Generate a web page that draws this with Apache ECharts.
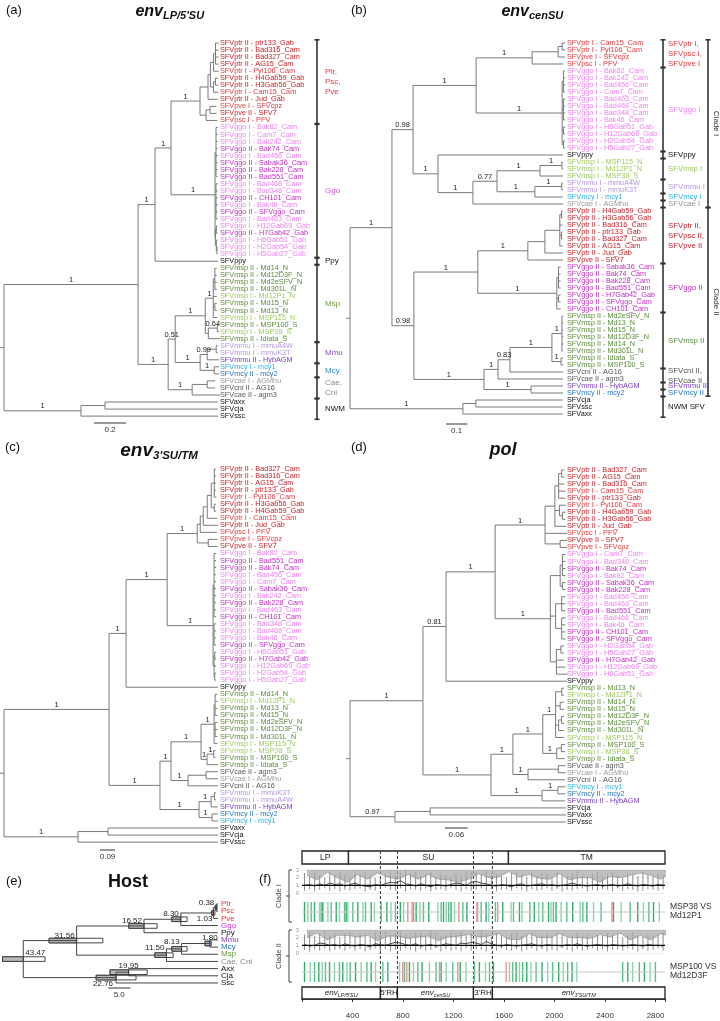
<!DOCTYPE html>
<html><head><meta charset="utf-8">
<script src="https://cdn.jsdelivr.net/npm/echarts@6.0.0/dist/echarts.min.js"></script>
<style>html,body{margin:0;padding:0;background:#fff}#c{width:720px;height:1021px}</style>
</head><body><div id="c"></div>
<script>
// ===================== DATA =====================
// (a) env LP/5'SU tree (branch lengths in substitutions/site, node labels = posterior support)
const a_ptr = "(((((SFVptr II - ptr133_Gab:0.02,SFVptr II - Bad316_Cam:0.02,SFVptr II - Bad327_Cam:0.02,SFVptr II - AG15_Cam:0.02):0.012,SFVptr I - Pyl106_Cam:0.032):0.02,((SFVptr II - H4Gab59_Gab:0.018,SFVptr II - H3Gab56_Gab:0.018):0.012,SFVptr I - Cam15_Cam:0.03):0.02):0.015,SFVptr II - Jud_Gab:0.062):0.05,((SFVpve I - SFVcpz:0.04,SFVpve II - SFV7:0.04):0.025,SFVpsc I - PFV:0.07):0.038)1:0.181";
const a_ggo = "((SFVggo I - Bak82_Cam:0.01,SFVggo I - Cam7_Cam:0.01,SFVggo I - Bak242_Cam:0.01,SFVggo II - Bak74_Cam:0.01,SFVggo I - Bad456_Cam:0.01,SFVggo II - Sabak36_Cam:0.01,SFVggo II - Bak228_Cam:0.01,SFVggo II - Bad551_Cam:0.01):0.006,(SFVggo I - Bad468_Cam:0.01,SFVggo I - Bad348_Cam:0.01,SFVggo II - CH101_Cam:0.01,SFVggo I - Bak46_Cam:0.01,SFVggo II - SFVggo_Cam:0.01,SFVggo I - Bad463_Cam:0.01):0.006,((SFVggo I - H12Gab69_Gab:0.008,SFVggo II - H7Gab42_Gab:0.008):0.006,(SFVggo I - H6Gab51_Gab:0.008,(SFVggo I - H2Gab54_Gab:0.004,SFVggo I - H5Gab27_Gab:0.004):0.004):0.006):0.002)1:0.275";
const a_msp = "(((SFVmsp II - Md14_N:0.012,SFVmsp II - Md12D3F_N:0.012,SFVmsp II - Md2eSFV_N:0.012,SFVmsp II - Md301L_N:0.012):0.01,SFVmsp I - Md12P1_N:0.022,(SFVmsp II - Md15_N:0.012,SFVmsp II - Md13_N:0.012):0.01,SFVmsp I - MSP115_N:0.025)1:0.05,((SFVmsp II - MSP100_S:0.01,SFVmsp I - MSP38_S:0.01)0.64:0.056,SFVmsp II - Idiata_S:0.075):0.019)1:0.188";
const a_mm = "(((SFVmmu I - mmuA4W:0.01,SFVmmu I - mmuK3T:0.01):0.056,SFVmmu II - HybAGM:0.075)0.99:0.044,(SFVmcy I - mcy1:0.03,SFVmcy II - mcy2:0.03)1:0.088)1:0.156";
const a_cae = "((SFVcae I - AGMhu:0.05,SFVcni II - AG16:0.05):0.094,SFVcae II - agm3:0.175)1:0.15";
const a_nwm = "((SFVaxx:0.706,SFVcja:0.706):0.15,SFVssc:0.856)1:0.481";
const newickA = `((((${a_ptr},${a_ggo})1:0.1,SFVppy:0.394)1:0.106,((${a_msp},${a_mm})0.51:0.044,${a_cae})1:0.188)1:0.838,${a_nwm})`;

// (b) env cenSU tree
const b_p1 = "(((SFVptr I - Cam15_Cam:0.014,SFVptr I - Pyl106_Cam:0.014):0.019,SFVpve I - SFVcpz:0.033):0.122,SFVpsc I - PFV:0.146)1:0.263";
const b_g1 = "((SFVggo I - Bak82_Cam:0.008,SFVggo I - Bak242_Cam:0.008,SFVggo I - Bad456_Cam:0.008,SFVggo I - Cam7_Cam:0.008):0.006,(SFVggo I - Bad463_Cam:0.008,SFVggo I - Bad468_Cam:0.008,SFVggo I - Bad348_Cam:0.008,SFVggo I - Bak46_Cam:0.008):0.006,(SFVggo I - H6Gab51_Gab:0.008,SFVggo I - H12Gab69_Gab:0.008):0.006,(SFVggo I - H2Gab54_Gab:0.008,SFVggo I - H5Gab27_Gab:0.008):0.006)1:0.404";
const b_q = "(SFVppy:0.587,((((SFVmsp I - MSP115_N:0.005,SFVmsp I - Md12P1_N:0.005)1:0.103,SFVmsp I - MSP38_S:0.108)1:0.202,((SFVmmu I - mmuA4W:0.005,SFVmmu I - mmuK3T:0.005)1:0.126,SFVmcy I - mcy1:0.131)1:0.178)0.77:0.113,SFVcae I - AGMhu:0.423)1:0.164)1:0.117";
const b_p2 = "((((SFVptr II - H4Gab59_Gab:0.005,SFVptr II - H3Gab56_Gab:0.005):0.008,SFVptr II - Bad316_Cam:0.013,(SFVptr II - ptr133_Gab:0.005,SFVptr II - Bad327_Cam:0.005):0.008,SFVptr II - AG15_Cam:0.013):0.07,SFVptr II - Jud_Gab:0.085):0.08,SFVpve II - SFV7:0.164)1:0.235";
const b_g2 = "((SFVggo II - Sabak36_Cam:0.01,SFVggo II - Bak74_Cam:0.01,SFVggo II - Bak228_Cam:0.01,SFVggo II - Bad551_Cam:0.01):0.008,(SFVggo II - H7Gab42_Gab:0.01,SFVggo II - SFVggo_Cam:0.01):0.008,SFVggo II - CH101_Cam:0.018)1:0.371";
const b_m2 = "(((((SFVmsp II - Md2eSFV_N:0.006,SFVmsp II - Md13_N:0.006,SFVmsp II - Md15_N:0.006,SFVmsp II - Md12D3F_N:0.006,SFVmsp II - Md14_N:0.006,SFVmsp II - Md301L_N:0.006)1:0.047,(SFVmsp II - Idiata_S:0.01,SFVmsp II - MSP100_S:0.01)1:0.043)1:0.197,SFVcni II - AG16:0.249)0.83:0.056,SFVcae II - agm3:0.305)1:0.066,(SFVmmu II - HybAGM:0.15,SFVmcy II - mcy2:0.15)1:0.221)1:0.329";
const b_nwm = "((SFVcja:0.408,SFVssc:0.408):0.061,SFVaxx:0.469)1:0.53";
const newickB = `((((${b_p1},${b_g1})1:0.296,${b_q})0.98:0.099,((${b_p2},${b_g2})1:0.30,${b_m2})0.98:0.103)1:0.197,${b_nwm})`;

// (c) env 3'SU/TM tree
const c_ptr = "((((((SFVptr II - Bad327_Cam:0.01,SFVptr II - Bad316_Cam:0.01,SFVptr II - AG15_Cam:0.01,SFVptr II - ptr133_Gab:0.01,SFVptr I - Pyl106_Cam:0.013):0.018,(SFVptr II - H3Gab56_Gab:0.01,SFVptr II - H4Gab59_Gab:0.01):0.018):0.024,SFVptr I - Cam15_Cam:0.06):0.024,SFVptr II - Jud_Gab:0.09):0.018,SFVpsc I - PFV:0.1):0.018,(SFVpve I - SFVcpz:0.055,SFVpve II - SFV7:0.055):0.066)1:0.18";
const c_ggo = "((SFVggo I - Bak82_Cam:0.012,SFVggo II - Bad551_Cam:0.012,SFVggo II - Bak74_Cam:0.012,SFVggo I - Bad456_Cam:0.012,SFVggo I - Cam7_Cam:0.012,SFVggo II - Sabak36_Cam:0.012,SFVggo I - Bak242_Cam:0.012,SFVggo II - Bak228_Cam:0.012,SFVggo I - Bad463_Cam:0.012,SFVggo II - CH101_Cam:0.012):0.006,(SFVggo I - Bad348_Cam:0.012,SFVggo I - Bad468_Cam:0.012,SFVggo I - Bak46_Cam:0.012,SFVggo II - SFVggo_Cam:0.012):0.006,((SFVggo I - H6Gab51_Gab:0.008,SFVggo II - H7Gab42_Gab:0.008):0.004,SFVggo I - H12Gab69_Gab:0.012,(SFVggo I - H2Gab54_Gab:0.008,SFVggo I - H5Gab27_Gab:0.008):0.004):0.006)1:0.275";
const c_owm = "(((((SFVmsp II - Md14_N:0.014,SFVmsp I - Md12P1_N:0.014,SFVmsp II - Md13_N:0.014,SFVmsp II - Md15_N:0.014):0.006,(SFVmsp II - Md2eSFV_N:0.014,SFVmsp II - Md12D3F_N:0.014,SFVmsp II - Md301L_N:0.014):0.006,SFVmsp I - MSP115_N:0.02)1:0.078,((SFVmsp I - MSP38_S:0.01,SFVmsp II - MSP100_S:0.01)1:0.04,SFVmsp II - Idiata_S:0.066)1:0.036)1:0.18,((SFVcae II - agm3:0.07,SFVcae I - AGMhu:0.07):0.108,SFVcni II - AG16:0.18)1:0.102)1:0.066,(((SFVmmu I - mmuK3T:0.01,SFVmmu I - mmuA4W:0.01):0.02,SFVmmu II - HybAGM:0.04)1:0.072,(SFVmcy II - mcy2:0.036,SFVmcy I - mcy1:0.036)1:0.078)1:0.234)1:0.305";
const c_nwm = "((SFVaxx:0.66,SFVcja:0.66):0.18,SFVssc:0.838)1:0.443";
const newickC = `((((${c_ptr},${c_ggo})1:0.246,SFVppy:0.551)1:0.102,${c_owm})1:0.629,${c_nwm})`;

// (d) pol tree
const d_ptr = "((((SFVptr II - Bad327_Cam:0.007,SFVptr II - AG15_Cam:0.007):0.008,SFVptr II - Bad316_Cam:0.015,SFVptr I - Cam15_Cam:0.018,SFVptr II - ptr133_Gab:0.018):0.01,(SFVptr I - Pyl106_Cam:0.016,(SFVptr II - H4Gab59_Gab:0.008,SFVptr II - H3Gab56_Gab:0.008):0.008):0.012,SFVptr II - Jud_Gab:0.03):0.026,SFVpsc I - PFV:0.058,(SFVpve II - SFV7:0.018,SFVpve I - SFVcpz:0.018):0.04)1:0.132";
const d_ggo = "(((SFVggo I - Cam7_Cam:0.008,SFVggo I - Bad348_Cam:0.008,SFVggo II - Bak74_Cam:0.008,SFVggo I - Bak82_Cam:0.008):0.006,(SFVggo II - Sabak36_Cam:0.008,SFVggo II - Bak228_Cam:0.008):0.006):0.026,((SFVggo I - Bad456_Cam:0.01,SFVggo I - Bad463_Cam:0.01,SFVggo II - Bad551_Cam:0.01):0.016,(SFVggo I - Bad468_Cam:0.01,SFVggo I - Bak46_Cam:0.01,SFVggo II - CH101_Cam:0.01,SFVggo II - SFVggo_Cam:0.01):0.016):0.014,((SFVggo I - H2Gab54_Gab:0.008,SFVggo I - H5Gab27_Gab:0.008):0.012,SFVggo II - H7Gab42_Gab:0.02,SFVggo I - H12Gab69_Gab:0.024,SFVggo I - H6Gab51_Gab:0.03):0.016)1:0.146";
const d_owm = "(((((SFVmsp II - Md13_N:0.006,SFVmsp I - Md12P1_N:0.006):0.016,(SFVmsp II - Md14_N:0.01,SFVmsp II - Md15_N:0.01):0.012,((SFVmsp II - Md12D3F_N:0.006,SFVmsp II - Md2eSFV_N:0.006):0.008,SFVmsp II - Md301L_N:0.014):0.008,SFVmsp I - MSP115_N:0.022)1:0.034,((SFVmsp II - MSP100_S:0.01,SFVmsp I - MSP38_S:0.01):0.012,SFVmsp II - Idiata_S:0.021)1:0.037)1:0.079,((SFVcae II - agm3:0.02,SFVcae I - AGMhu:0.02):0.08,SFVcni II - AG16:0.098)1:0.04)1:0.058,((SFVmcy I - mcy1:0.02,SFVmcy II - mcy2:0.02)1:0.042,SFVmmu II - HybAGM:0.061)1:0.135)1:0.18";
const d_nwm = "((SFVcja:0.36,SFVaxx:0.36):0.093,SFVssc:0.452)0.97:0.119";
const newickD = `((((${d_ptr},${d_ggo})1:0.13,SFVppy:0.32)0.81:0.061,${d_owm})1:0.193,${d_nwm})`;

// brackets of (a) and (b)
const bracketA_labels = ['Ptr,\nPsc,\nPve','Ggo','Ppy','Msp','Mmu','Mcy','Cae,\nCni','NWM'];
const bracketA_first = [0,12,31,32,43,46,48,51];
const bracketA_last  = [11,30,31,42,45,47,50,53];
const bracketB_labels = ['SFVptr I,\nSFVpsc I,\nSFVpve I','SFVggo I','SFVppy','SFVmsp I','SFVmmu I','SFVmcy I','SFVcae I','SFVptr II,\nSFVpsc II,\nSFVpve II','SFVggo II','SFVmsp II','SFVcni II,\nSFVcae II','SFVmmu II','SFVmcy II','NWM SFV'];
const bracketB_first = [0,4,16,17,20,22,23,24,32,39,47,49,50,51];
const bracketB_last  = [3,15,16,19,21,22,23,31,38,46,48,49,50,53];
const cladeB_labels = ['Clade I','Clade II'];
const cladeB_first = [0,24];
const cladeB_last  = [23,50];

// (e) host tree: node labels are divergence ages (Mya)
const hostNewick = "((((((Ptr,Psc)0.38,Pve)1.03,Ggo)8.30,Ppy)16.52,(((Mmu,Mcy)1.80,Msp)8.13,'Cae, Cni')11.50)31.56,((Axx,Cja)19.95,Ssc)22.76)43.47";
const hostHpdAge  = [43.47,31.56,16.52,8.30,1.03,0.38,11.50,8.13,1.80,22.76,19.95];
const hostHpdLow  = [38.6,25.7,13.6,6.9,0.7,0.2,10.0,6.9,1.5,18.3,15.8];
const hostHpdHigh = [48.1,37.7,19.9,10.3,1.4,0.6,14.1,10.3,2.9,27.2,24.1];

// (f) env genome map (nt)
const domainNames = ['LP','SU','TM'];
const domainStart = [0,368,1635];
const domainEnd   = [368,1635,2875];
const regionNames = ["env|LP/5'SU","5'RH","env|cenSU","3'RH","env|3'SU/TM"];
const regionStart = [0,621,756,1358,1508];
const regionEnd   = [621,756,1358,1508,2875];
const sigStep = 40;
const sigHiI = [2.6,2.2,2.9,2.4,2.0,2.7,2.3,2.8,2.5,2.1,2.9,2.4,2.6,2.2,2.0,1.9,2.5,2.9,2.3,2.7,3.0,2.6,2.8,2.2,2.4,2.7,2.1,2.5,2.3,2.0,2.6,2.2,2.8,2.9,2.7,2.4,2.9,2.3,2.5,2.2,2.0,2.6,2.8,2.4,2.1,2.7,2.3,2.6,2.5,2.0,2.8,2.4,2.2,2.6,2.9,2.3,2.1,2.5,2.7,2.2,2.4,2.8,2.3,2.0,2.6,2.5,2.2,2.7,2.4,2.1,2.6,2.3];
const sigLoI = [0.3,0.5,0.2,0.4,0.6,0.3,0.5,0.2,0.4,0.3,0.5,0.6,0.2,0.4,0.3,0.5,0.7,0.4,0.3,0.6,0.2,0.5,0.4,0.3,0.6,0.2,0.4,0.5,0.3,0.6,0.4,0.2,0.5,0.3,0.4,0.6,0.3,0.5,0.2,0.4,0.5,0.3,0.6,0.4,0.2,0.5,0.3,0.4,0.6,0.3,0.5,0.2,0.4,0.3,0.5,0.6,0.2,0.4,0.3,0.5,0.4,0.2,0.6,0.3,0.5,0.4,0.2,0.3,0.5,0.4,0.3,0.5];
const smoothI = [1.0,1.1,0.9,1.2,1.0,1.3,1.1,1.2,0.9,1.1,1.3,1.0,0.9,0.8,1.1,1.0,1.2,1.4,1.3,1.6,1.2,1.1,0.9,1.2,1.0,0.8,1.1,1.0,0.9,1.1,1.3,1.2,1.0,1.4,1.5,1.3,1.2,1.0,0.9,1.1,1.0,0.8,1.1,1.2,0.9,1.0,1.1,1.2,1.0,1.1,0.9,1.0,1.1,1.3,1.1,1.0,0.9,1.0,1.1,0.9,1.0,1.1,0.9,1.0,1.2,1.0,0.9,1.1,1.0,0.9,1.1,1.0];
const sigHiII = [2.4,2.8,2.2,2.6,2.9,2.3,2.7,2.1,2.5,2.8,2.2,2.6,2.4,2.0,2.7,2.5,2.9,2.3,2.6,2.8,2.4,2.1,2.7,2.5,2.3,2.9,2.6,2.2,2.4,2.7,2.5,2.8,2.3,2.6,2.2,2.9,2.4,2.1,2.6,2.3,2.0,2.5,2.7,2.2,2.4,2.6,2.1,2.3,2.5,2.2,2.7,2.4,2.0,2.3,2.6,2.2,2.5,2.1,2.4,2.3,2.6,2.2,2.5,2.0,2.4,2.7,2.3,2.1,2.5,2.2,2.4,2.6];
const sigLoII = [0.4,0.2,0.5,0.3,0.6,0.2,0.4,0.5,0.3,0.6,0.3,0.5,0.2,0.4,0.6,0.3,0.5,0.2,0.4,0.3,0.6,0.4,0.2,0.5,0.3,0.4,0.6,0.2,0.5,0.3,0.4,0.2,0.6,0.3,0.5,0.4,0.2,0.5,0.3,0.6,0.4,0.3,0.5,0.2,0.4,0.6,0.3,0.5,0.2,0.4,0.3,0.6,0.4,0.2,0.5,0.3,0.4,0.6,0.3,0.5,0.2,0.4,0.5,0.3,0.6,0.4,0.2,0.5,0.3,0.4,0.6,0.3];
const smoothII = [1.1,0.9,1.0,1.3,1.2,1.0,1.1,0.9,1.2,1.0,0.9,1.1,1.0,0.8,1.2,1.1,1.0,1.2,1.4,1.3,1.1,1.0,1.2,0.9,1.0,1.1,0.9,1.0,1.2,1.1,1.0,1.3,1.2,1.4,1.3,1.1,1.5,1.2,1.0,0.9,1.1,1.0,0.9,1.0,1.1,1.2,1.0,0.9,1.1,1.0,1.0,0.9,1.1,1.0,1.2,1.0,0.9,1.0,1.1,1.0,0.9,1.1,1.0,0.9,1.0,1.1,1.0,0.9,1.1,1.0,1.0,0.9];
const synI = [20,46,73,99,139,152,165,205,231,271,297,337,350,363,402,442,482,503,548,574,627,672,706,740,779,804,883,904,935,962,1004,1076,1102,1121,1142,1162,1181,1208,1274,1306,1392,1419,1458,1479,1532,1590,1656,1675,1722,1742,1805,1840,1875,1907,1953,1972,1991,2012,2052,2097,2144,2203,2224,2256,2309,2369,2467,2528,2599,2659,2704,2747,2784,2830];
const nonsynI = [838,872,1242,1385,1550,2455];
const synII = [20,66,99,133,160,186,218,257,297,323,356,382,424,468,514,548,582,640,680,772,812,851,883,917,951,1009,1062,1102,1142,1194,1253,1300,1366,1405,1453,1485,1516,1643,1669,1696,1722,1748,1780,1814,1854,1901,1946,1986,2033,2070,2104,2139,2177,2540,2580,2619,2672,2712,2757,2799];
const nonsynII = [798,830,1089,1234,1617];

// ===================== RENDER =====================
const FONT = '"Liberation Sans", Arial, Helvetica, sans-serif';
const ctx2d = document.createElement('canvas').getContext('2d');
function tw(t, font){ ctx2d.font = font; return ctx2d.measureText(t).width; }

function parseNewick(str){
  let i = 0;
  function node(){
    const n = {children:[], name:'', len:0, parent:null};
    if (str[i] === '('){
      i++; n.children.push(node());
      while (str[i] === ','){ i++; n.children.push(node()); }
      i++;
    }
    let name = '';
    if (str[i] === "'"){ i++; while (i < str.length && str[i] !== "'") name += str[i++]; i++; }
    else { while (i < str.length && ':,);'.indexOf(str[i]) < 0) name += str[i++]; }
    n.name = name.trim();
    if (str[i] === ':'){ i++; let num=''; while (i < str.length && ',);'.indexOf(str[i]) < 0) num += str[i++]; n.len = parseFloat(num); }
    return n;
  }
  return node();
}
function layout(root, xOf){
  const leaves=[], nodes=[]; let row=0;
  (function walk(n, px){
    n.x = xOf(n, px); nodes.push(n);
    if (!n.children.length){ n.y = row++; leaves.push(n); }
    else {
      n.children.forEach(c => { c.parent = n; walk(c, n.x); });
      n.y = (n.children[0].y + n.children[n.children.length-1].y) / 2;
    }
  })(root, 0);
  return {leaves, nodes};
}
function segmentsOf(nodes){
  const s=[];
  nodes.forEach(n => {
    if (n.parent) s.push([n.parent.x, n.y, n.x, n.y]);
    if (n.children.length) s.push([n.x, n.children[0].y, n.x, n.children[n.children.length-1].y]);
  });
  return s;
}
const PAL = {ptr:['#e8383d','#cc2129'], pve:['#e8383d','#cc2129'], psc:['#e8383d','#cc2129'],
  ggo:['#f27ff2','#c42ec4'], msp:['#9ccc5e','#5a8c3a'], mmu:['#b995e6','#7a3ec6'],
  mcy:['#27b3ea','#2a77c5'], cae:['#9b9b9b','#565656'], cni:['#9b9b9b','#565656']};
function leafColor(n){
  const m = n.match(/^SFV(\w+) (I{1,2})\b/);
  if (!m || !PAL[m[1]]) return '#111';
  return PAL[m[1]][m[2] === 'I' ? 0 : 1];
}

const grids=[], xAxes=[], yAxes=[], series=[], graphics=[];
function addGrid(box, xa, ya){
  const i = grids.length;
  grids.push(Object.assign({show:false}, box));
  xAxes.push(Object.assign({type:'value', gridIndex:i, show:false}, xa));
  yAxes.push(Object.assign({type:'value', gridIndex:i, show:false}, ya));
  return i;
}
function lineSeries(gi, segs, color, w){
  return {type:'custom', xAxisIndex:gi, yAxisIndex:gi, silent:true, data:segs, encode:{x:[0,2], y:[1,3]},
    renderItem:(p, api) => {
      const a = api.coord([api.value(0), api.value(1)]), b = api.coord([api.value(2), api.value(3)]);
      return {type:'line', shape:{x1:a[0], y1:a[1], x2:b[0], y2:b[1]}, style:{stroke:color, lineWidth:w}};
    }};
}
function bracketSeries(gi, br){
  return {type:'custom', xAxisIndex:gi, yAxisIndex:gi, silent:true,
    data: br.first.map((f,k) => [0, f, br.last[k]]), encode:{x:0, y:1},
    renderItem:(p, api) => {
      const k = p.dataIndex;
      const y1 = api.coord([0, api.value(1)])[1] - 3.2, y2 = api.coord([0, api.value(2)])[1] + 3.2, x = br.x;
      const st = {stroke:'#333', lineWidth:1.6};
      const txt = {type:'text', x:x + br.dx, y:(y1+y2)/2, rotation:br.rot || 0,
        style:{text:br.labels[k], fill:br.colors[k], fontSize:br.fs || 8, fontFamily:FONT, lineHeight:10,
          align:br.rot ? 'center' : 'left', verticalAlign:'middle'}};
      return {type:'group', children:[
        {type:'line', shape:{x1:x, y1:y1, x2:x, y2:y2}, style:st},
        {type:'line', shape:{x1:x-2.5, y1:y1, x2:x+2.5, y2:y1}, style:st},
        {type:'line', shape:{x1:x-2.5, y1:y2, x2:x+2.5, y2:y2}, style:st},
        txt]};
    }};
}
function scaleBarSeries(gi, bar){
  return {type:'custom', xAxisIndex:gi, yAxisIndex:gi, silent:true, data:[[bar.value, 0]], encode:{x:0, y:1},
    renderItem:(p, api) => {
      const w = api.size([api.value(0), 0])[0];
      return {type:'group', children:[
        {type:'line', shape:{x1:bar.x, y1:bar.y, x2:bar.x + w, y2:bar.y}, style:{stroke:'#333', lineWidth:1}},
        {type:'text', x:bar.x + w/2, y:bar.y + 3, style:{text:bar.text, fontSize:8, fontFamily:FONT, fill:'#333', align:'center', verticalAlign:'top'}}]};
    }};
}

function drawTree(cfg){
  const root = parseNewick(cfg.newick);
  const {leaves, nodes} = layout(root, (n, px) => n.parent ? px + n.len : 0);
  const n = leaves.length, W = 300;
  const gi = addGrid({left:cfg.rootPx, top:cfg.top, width:W, height:(n-1)*cfg.rowH},
    {min:0, max:W/cfg.scale}, {min:0, max:n-1, inverse:true});
  const segs = segmentsOf(nodes);
  segs.push([-4/cfg.scale, root.y, 0, root.y]);
  series.push(lineSeries(gi, segs, '#7a7a7a', 1));
  series.push({type:'custom', xAxisIndex:gi, yAxisIndex:gi, silent:true, data:leaves.map(l => [l.x, l.y]), encode:{x:0, y:1},
    renderItem:(p, api) => {
      const c = api.coord([api.value(0), api.value(1)]); const nm = leaves[p.dataIndex].name;
      return {type:'text', x:cfg.labelX, y:c[1], style:{text:nm, fill:leafColor(nm), fontSize:7.3, fontFamily:FONT, align:'left', verticalAlign:'middle'}};
    }});
  const sup = nodes.filter(d => d.children.length && d.parent && d.name);
  series.push({type:'custom', xAxisIndex:gi, yAxisIndex:gi, silent:true, data:sup.map(d => [(d.parent.x + d.x)/2, d.y]), encode:{x:0, y:1},
    renderItem:(p, api) => {
      const c = api.coord([api.value(0), api.value(1)]);
      return {type:'text', x:c[0], y:c[1] - 0.5, style:{text:sup[p.dataIndex].name, fill:'#222', fontSize:7.5, fontFamily:FONT, align:'center', verticalAlign:'bottom'}};
    }});
  series.push(scaleBarSeries(gi, cfg.bar));
  (cfg.brackets || []).forEach(br => series.push(bracketSeries(gi, br)));
}

drawTree({newick:newickA, rootPx:4, scale:160, top:43, rowH:7.04, labelX:220, bar:{value:0.2, text:'0.2', x:94, y:423},
  brackets:[{x:317, dx:8, labels:bracketA_labels, first:bracketA_first, last:bracketA_last,
    colors:['#e8383d','#d757d7','#111','#6f9f45','#8a4fd0','#2a8fd6','#888','#111']}]});
drawTree({newick:newickB, rootPx:350, scale:213, top:43, rowH:7.0, labelX:567, bar:{value:0.1, text:'0.1', x:446, y:424},
  brackets:[{x:663, dx:5, fs:7.8, labels:bracketB_labels, first:bracketB_first, last:bracketB_last,
    colors:['#e8383d','#f07ef0','#111','#9acb5c','#b897e6','#28b4ea','#9a9a9a','#c8202a','#c52ec5','#5b8d3a','#555','#7b3fc6','#2a78c6','#111']},
   {x:708, dx:8, rot:-Math.PI/2, labels:cladeB_labels, first:cladeB_first, last:cladeB_last, colors:['#333','#333']}]});
drawTree({newick:newickC, rootPx:4, scale:167, top:469, rowH:7.04, labelX:220, bar:{value:0.09, text:'0.09', x:100, y:850}});
drawTree({newick:newickD, rootPx:350, scale:378, top:470, rowH:7.04, labelX:567, bar:{value:0.06, text:'0.06', x:445, y:828}});

// ---- (e) host tree ----
(function(){
  const root = parseNewick(hostNewick);
  const {leaves, nodes} = layout(root, n => n.children.length ? -parseFloat(n.name) : 0);
  const pxPerMy = 4.48, rowH = 7.18;
  const gi = addGrid({left:0, top:904, width:218, height:(leaves.length-1)*rowH},
    {min:-218/pxPerMy, max:0}, {min:0, max:leaves.length-1, inverse:true});
  const byAge = a => nodes.find(d => d.children.length && Math.abs(parseFloat(d.name) - a) < 1e-6);
  series.push({type:'custom', xAxisIndex:gi, yAxisIndex:gi, silent:true,
    data: hostHpdAge.map((a,k) => [-a, byAge(a).y, -hostHpdHigh[k], -hostHpdLow[k]]), encode:{x:0, y:1},
    renderItem:(p, api) => {
      const n = api.coord([api.value(0), api.value(1)]);
      const l = api.coord([api.value(2), api.value(1)])[0], r = api.coord([api.value(3), api.value(1)])[0];
      const h = 4.6;
      return {type:'group', children:[
        {type:'rect', shape:{x:l, y:n[1]-h/2, width:r-l, height:h}, style:{fill:'#fff', stroke:'#333', lineWidth:0.9}},
        {type:'rect', shape:{x:l, y:n[1]-h/2, width:Math.max(0, n[0]-l), height:h}, style:{fill:'#b8b8b8', stroke:'#333', lineWidth:0.9}}]};
    }});
  series.push(lineSeries(gi, segmentsOf(nodes), '#444', 1));
  const hostColors = {Ptr:'#e8383d', Psc:'#e8383d', Pve:'#e8383d', Ggo:'#d030d0', Ppy:'#111', Mmu:'#8040c8', Mcy:'#2a78c6', Msp:'#6a9a3a', 'Cae, Cni':'#888', Axx:'#111', Cja:'#111', Ssc:'#111'};
  series.push({type:'custom', xAxisIndex:gi, yAxisIndex:gi, silent:true, data:leaves.map(l => [l.x, l.y]), encode:{x:0, y:1},
    renderItem:(p, api) => {
      const c = api.coord([api.value(0), api.value(1)]); const nm = leaves[p.dataIndex].name;
      return {type:'text', x:c[0] + 3, y:c[1], style:{text:nm, fill:hostColors[nm] || '#111', fontSize:8, fontFamily:FONT, align:'left', verticalAlign:'middle'}};
    }});
  const place = {'43.47':['left',2,-2,'bottom'], '22.76':['right',-3,2,'top'], '1.03':['right',-1,1.5,'top'],
    '19.95':['center',0,-2,'bottom'], '1.80':['center',0,-2,'bottom'], '8.13':['right',-2,-3,'bottom'], '11.50':['right',-2,-3,'bottom']};
  const inner = nodes.filter(d => d.children.length);
  series.push({type:'custom', xAxisIndex:gi, yAxisIndex:gi, silent:true, data:inner.map(d => [d.x, d.y]), encode:{x:0, y:1},
    renderItem:(p, api) => {
      const c = api.coord([api.value(0), api.value(1)]); const nm = inner[p.dataIndex].name;
      const pl = place[nm] || ['right',-2,-1,'bottom'];
      return {type:'text', x:c[0] + pl[1], y:c[1] + pl[2], style:{text:nm, fill:'#222', fontSize:8, fontFamily:FONT, align:pl[0], verticalAlign:pl[3]}};
    }});
  series.push(scaleBarSeries(gi, {value:5.0, text:'5.0', x:108, y:988}));
})();

// ---- (f) genome map ----
(function(){
  const L = 302, W = 363, X = {min:0, max:2875};
  const g0 = addGrid({left:L, width:W, top:851, height:13}, X, {min:0, max:1});
  const yS = {show:true, min:0, max:3, interval:1, axisLine:{show:false}, axisTick:{show:false},
    axisLabel:{fontSize:6, color:'#999', margin:3, fontFamily:FONT}, splitLine:{show:true, lineStyle:{color:'#e8e8e8', width:0.8}}};
  const g1 = addGrid({left:L, width:W, top:870, height:23}, X, yS);
  const g2 = addGrid({left:L, width:W, top:902, height:20}, X, {min:0, max:1});
  const g3 = addGrid({left:L, width:W, top:930, height:23}, X, yS);
  const g4 = addGrid({left:L, width:W, top:962, height:20}, X, {min:0, max:1});
  const g5 = addGrid({left:L, width:W, top:987, height:12}, {min:0, max:2875, show:true, position:'bottom', offset:9, interval:400,
    axisLine:{lineStyle:{color:'#333', width:1.5}}, axisTick:{length:3, lineStyle:{color:'#333'}},
    axisLabel:{fontSize:8, color:'#333', fontFamily:FONT, margin:4, formatter:v => (v > 0 && v % 400 === 0) ? String(v) : ''},
    splitLine:{show:false}}, {min:0, max:1});

  function boxSeries(gi, names, starts, ends, fs){
    return {type:'custom', xAxisIndex:gi, yAxisIndex:gi, silent:true, data:starts.map((s,k) => [s, ends[k]]), encode:{x:[0,1]},
      renderItem:(p, api) => {
        const a = api.coord([api.value(0), 1]), b = api.coord([api.value(1), 0]);
        const nm = names[p.dataIndex]; const cx = (a[0]+b[0])/2, cy = (a[1]+b[1])/2;
        const ch = [{type:'rect', shape:{x:a[0], y:a[1], width:b[0]-a[0], height:b[1]-a[1]}, style:{fill:'#fff', stroke:'#222', lineWidth:1.3}}];
        if (nm.indexOf('|') >= 0){
          const [m, s] = nm.split('|');
          const f1 = 'italic 8px ' + FONT, f2 = 'italic 5.5px ' + FONT;
          const w1 = tw(m, f1), w2 = tw(s, f2), x0 = cx - (w1 + w2)/2;
          ch.push({type:'text', x:x0, y:cy, style:{text:m, font:f1, fill:'#222', align:'left', verticalAlign:'middle'}});
          ch.push({type:'text', x:x0 + w1, y:cy + 2, style:{text:s, font:f2, fill:'#222', align:'left', verticalAlign:'middle'}});
        } else {
          ch.push({type:'text', x:cx, y:cy, style:{text:nm, fontSize:fs, fontFamily:FONT, fill:'#222', align:'center', verticalAlign:'middle'}});
        }
        return {type:'group', children:ch};
      }};
  }
  series.push(boxSeries(g0, domainNames, domainStart, domainEnd, 8.5));
  series.push(boxSeries(g5, regionNames, regionStart, regionEnd, 8));
  series.push({type:'custom', xAxisIndex:g5, yAxisIndex:g5, silent:true, data:regionStart.slice(1).map(v => [v, 0]), encode:{x:0, y:1},
    renderItem:(p, api) => {
      const x = api.coord([api.value(0), 0])[0];
      return {type:'line', shape:{x1:x, y1:851, x2:x, y2:987}, style:{stroke:'#333', lineWidth:1, lineDash:[3,2]}};
    }});
  function signal(gi, hi, lo, sm){
    const xs = hi.map((h,k) => k*sigStep + sigStep/2);
    // grey spiky band between lo and hi (stacked area)
    series.push({type:'line', xAxisIndex:gi, yAxisIndex:gi, silent:true, showSymbol:false, stack:'band'+gi,
      data:lo.map((v,k) => [xs[k], v]), lineStyle:{width:0}, areaStyle:{opacity:0}});
    series.push({type:'line', xAxisIndex:gi, yAxisIndex:gi, silent:true, showSymbol:false, stack:'band'+gi,
      data:hi.map((v,k) => [xs[k], v - lo[k]]), lineStyle:{color:'#8a8a8a', width:0.6}, areaStyle:{color:'#a9a9a9', opacity:0.75}});
    // thin spikes at each sample
    series.push({type:'custom', xAxisIndex:gi, yAxisIndex:gi, silent:true, data:hi.map((h,k) => [xs[k], lo[k], h]), encode:{x:0, y:[1,2]},
      renderItem:(p, api) => {
        const a = api.coord([api.value(0), api.value(2)]), b = api.coord([api.value(0), api.value(1)]);
        return {type:'line', shape:{x1:a[0], y1:a[1], x2:b[0], y2:b[1]}, style:{stroke:'#6e6e6e', lineWidth:0.8}};
      }});
    series.push({type:'line', xAxisIndex:gi, yAxisIndex:gi, silent:true, showSymbol:false, data:[[0,1],[2875,1]], lineStyle:{color:'#000', width:1.2}});
    series.push({type:'line', xAxisIndex:gi, yAxisIndex:gi, silent:true, showSymbol:false, data:sm.map((v,k) => [xs[k], v]), lineStyle:{color:'#222', width:0.8}});
  }
  signal(g1, sigHiI, sigLoI, smoothI);
  signal(g3, sigHiII, sigLoII, smoothII);
  function barcode(gi, syn, non){
    series.push({type:'line', xAxisIndex:gi, yAxisIndex:gi, silent:true, showSymbol:false, data:[[0,0.5],[2875,0.5]], lineStyle:{color:'#c8c8c8', width:1}});
    const data = syn.map(v => [v, 0]).concat(non.map(v => [v, 1]));
    series.push({type:'custom', xAxisIndex:gi, yAxisIndex:gi, silent:true, data, encode:{x:0},
      renderItem:(p, api) => {
        const a = api.coord([api.value(0), 0]), b = api.coord([api.value(0), 1]);
        const col = api.value(1) === 1 ? '#ee8f8f' : (p.dataIndex % 3 === 0 ? '#2fae6a' : (p.dataIndex % 3 === 1 ? '#8fd4b0' : '#5cc08a'));
        return {type:'line', shape:{x1:a[0], y1:a[1], x2:b[0], y2:b[1]}, style:{stroke:col, lineWidth:1.4}};
      }});
  }
  barcode(g2, synI, nonsynI);
  barcode(g4, synII, nonsynII);
})();

// ---- titles & static annotations ----
function T(x, y, text, o){ graphics.push({type:'text', x, y, silent:true, rotation:o.rot || 0,
  style:Object.assign({text, fontFamily:FONT, fill:'#111', align:'left', verticalAlign:'middle'}, o.s)}); }
T(6, 10, '(a)', {s:{fontSize:13}});
T(351, 10, '(b)', {s:{fontSize:13}});
T(5, 447, '(c)', {s:{fontSize:13}});
T(351, 447, '(d)', {s:{fontSize:13}});
T(6, 881, '(e)', {s:{fontSize:13}});
T(259, 879, '(f)', {s:{fontSize:13}});
function title(xs, y, main, sub, fm, fsub){
  T(xs, y, main, {s:{fontSize:fm, fontWeight:'bold', fontStyle:'italic', align:'right'}});
  T(xs, y + fm*0.26, sub, {s:{fontSize:fsub, fontWeight:'bold', fontStyle:'italic'}});
}
title(163, 12, 'env', "LP/5'SU", 16, 11);
title(529, 12, 'env', 'cenSU', 16, 11);
title(153, 451, 'env', "3'SU/TM", 19, 11.5);
T(503, 450, 'pol', {s:{fontSize:18, fontWeight:'bold', fontStyle:'italic', align:'center'}});
T(128, 882, 'Host', {s:{fontSize:18, fontWeight:'bold', align:'center'}});
// (f) clade side labels and brackets
[[870, 922, 'Clade I'], [930, 982, 'Clade II']].forEach(([a, b, t]) => {
  const st = {stroke:'#444', lineWidth:1};
  graphics.push({type:'line', silent:true, shape:{x1:289, y1:a, x2:289, y2:b}, style:st});
  graphics.push({type:'line', silent:true, shape:{x1:289, y1:a, x2:292, y2:a}, style:st});
  graphics.push({type:'line', silent:true, shape:{x1:289, y1:b, x2:292, y2:b}, style:st});
  graphics.push({type:'line', silent:true, shape:{x1:286, y1:(a+b)/2, x2:289, y2:(a+b)/2}, style:st});
  T(279, (a+b)/2, t, {rot:Math.PI/2, s:{fontSize:7.5, fill:'#444', align:'center'}});
});
T(670, 907, 'MSP38 VS', {s:{fontSize:8.5, fill:'#333'}});
T(670, 916, 'Md12P1', {s:{fontSize:8.5, fill:'#333'}});
T(670, 967, 'MSP100 VS', {s:{fontSize:8.5, fill:'#333'}});
T(670, 976, 'Md12D3F', {s:{fontSize:8.5, fill:'#333'}});

const chart = echarts.init(document.getElementById('c'), null, {renderer:'canvas', width:720, height:1021});
chart.setOption({animation:false, backgroundColor:'#fff', grid:grids, xAxis:xAxes, yAxis:yAxes, series, graphic:{elements:graphics}});
</script></body></html>
